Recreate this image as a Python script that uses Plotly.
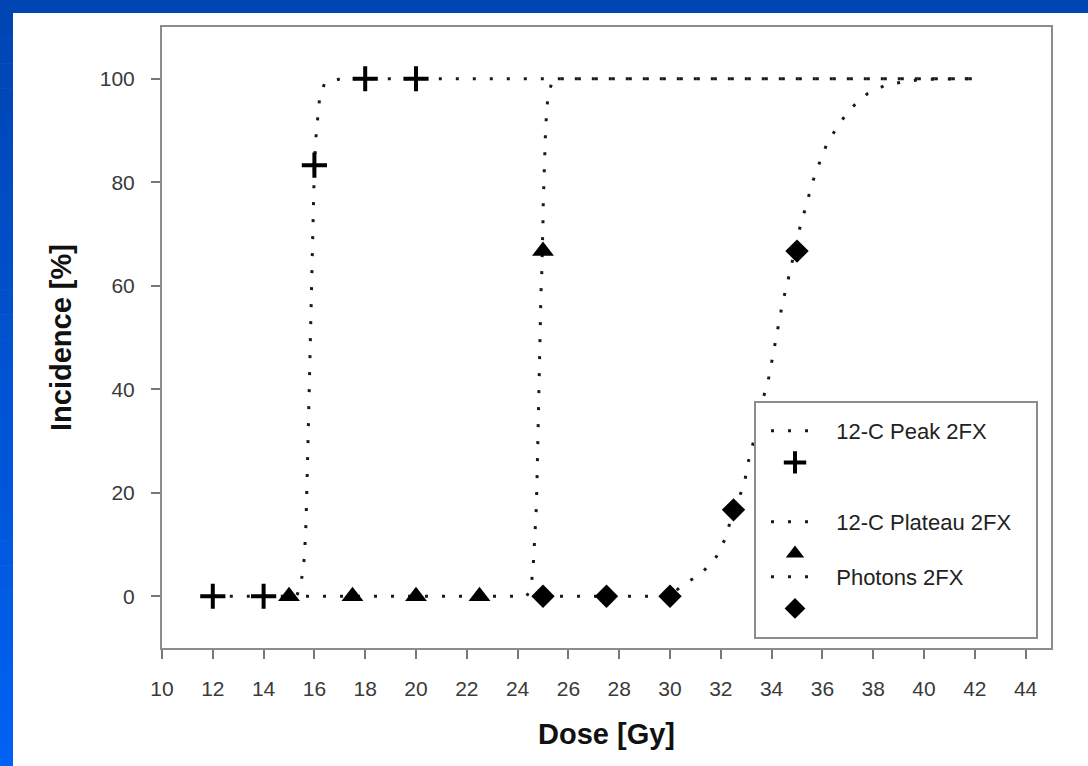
import plotly.graph_objects as go

# ---- data ----
peak_x = [12, 14, 16, 18, 20]
peak_y = [0, 0, 83.3, 100, 100]
plateau_x = [15, 17.5, 20, 22.5, 25]
plateau_y = [0, 0, 0, 0, 66.7]
photon_x = [25, 27.5, 30, 32.5, 35]
photon_y = [0, 0, 0, 16.7, 66.7]

peak_fit_x = [12, 15.3, 15.45, 15.54, 15.61, 15.67, 15.74, 15.83, 15.9, 15.95, 16.0,
              16.07, 16.13, 16.2, 16.4, 17.05, 42]
peak_fit_y = [0, 0, 2, 4.7, 7.8, 14.3, 28, 47, 65, 76, 83.3,
              89.3, 92.7, 96, 99.2, 100, 100]

plateau_fit_x = [15, 24.35, 24.5, 24.56, 24.62, 24.66, 24.71, 24.74, 24.77, 24.8, 24.82,
                 24.84, 24.87, 24.9, 24.92, 24.95, 24.98, 25.0, 25.01, 25.03, 25.05,
                 25.07, 25.1, 25.14, 25.2, 25.4, 42]
plateau_fit_y = [0, 0, 1.2, 3.1, 6.3, 9.7, 13.2, 17.4, 23.6, 30.6, 37.5,
                 44.4, 51.4, 55.2, 58.7, 62.2, 66.7, 72.6, 76.0, 79.5, 83.0,
                 86.5, 89.9, 93.4, 96.9, 100, 100]

photon_fit_x = [25, 30, 30.5, 31.22, 31.82, 32.18, 32.5, 32.93, 33.03, 33.4, 33.72,
                33.89, 34.02, 34.15, 34.28, 34.41, 34.57, 34.74, 35.04, 35.23, 35.42,
                35.63, 35.89, 36.16, 36.58, 37.08, 37.77, 38.49, 39.2, 39.93, 42]
photon_fit_y = [0, 0, 2.2, 4.3, 7.6, 11.2, 16.6, 21.6, 25.0, 32, 39.2,
                42.3, 45.7, 49.2, 52.7, 56.1, 59.6, 63.0, 69.9, 73.4, 76.8,
                80.3, 83.8, 87.2, 90.7, 94.1, 97.1, 98.8, 99.4, 99.9, 100]

series_names = ["12-C Peak 2FX", "12-C Plateau 2FX", "Photons 2FX"]
x_ticks = list(range(10, 46, 2))
y_ticks = [0, 20, 40, 60, 80, 100]

# ---- layout geometry (pixels) ----
W, H = 1088, 766
L, R, T, B = 162, 37, 27, 118
PW, PH = W - L - R, H - T - B


def px(p):
    return (p - L) / PW


def py(q):
    return (H - B - q) / PH


FONT = "Liberation Sans, Arial, sans-serif"
DOT = "3px,14px"
LINE_COLOR = "#1a1a1a"
PAD = "\u00a0\u00a0"  # gap between legend line sample and its label

fig = go.Figure()

curves = [(peak_fit_x, peak_fit_y), (plateau_fit_x, plateau_fit_y), (photon_fit_x, photon_fit_y)]
points = [(peak_x, peak_y), (plateau_x, plateau_y), (photon_x, photon_y)]
symbols = ["cross-thin", "triangle-up", "diamond"]
sizes = [18, 19, 18]
legends = ["legend", "legend2", "legend3"]

for i in range(3):
    cx, cy = curves[i]
    fig.add_trace(go.Scatter(
        x=cx, y=cy, mode="lines", name=PAD + series_names[i],
        line=dict(color=LINE_COLOR, width=3, dash=DOT),
        legend=legends[i], hoverinfo="skip"))

for i in range(3):
    mx, my = points[i]
    mk = dict(symbol=symbols[i], size=sizes[i], color="black")
    if symbols[i] == "cross-thin":
        mk["line"] = dict(color="black", width=4)
    else:
        mk["line"] = dict(color="black", width=0)
    fig.add_trace(go.Scatter(
        x=mx, y=my, mode="markers", name=" ",
        marker=mk, legend=legends[i]))

# reorder so each legend lists line then marker
fig.data = (fig.data[0], fig.data[3], fig.data[1], fig.data[4], fig.data[2], fig.data[5])

shapes = []
# legend box (white, covers curves)
shapes.append(dict(type="rect", xref="paper", yref="paper",
                   x0=px(755), x1=px(1037), y0=py(638), y1=py(402),
                   fillcolor="white", line=dict(color="#8c8c8c", width=2), layer="above"))
# blue frame: top strip
shapes.append(dict(type="rect", xref="paper", yref="paper",
                   x0=px(0), x1=px(W), y0=py(13), y1=py(0),
                   fillcolor="#0045b4", line=dict(width=0), layer="above"))
# blue frame: left strip with vertical gradient
n = 30
c0 = (0x00, 0x45, 0xb4)
c1 = (0x00, 0x61, 0xf2)
for k in range(n):
    t = k / (n - 1)
    col = "rgb(%d,%d,%d)" % tuple(round(c0[j] + (c1[j] - c0[j]) * t) for j in range(3))
    q0 = 13 + (H - 13) * k / n
    q1 = 13 + (H - 13) * (k + 1) / n + 0.6
    shapes.append(dict(type="rect", xref="paper", yref="paper",
                       x0=px(0), x1=px(13), y0=py(q1), y1=py(q0),
                       fillcolor=col, line=dict(width=0), layer="above"))

leg_common = dict(bgcolor="rgba(0,0,0,0)", borderwidth=0, itemwidth=48,
                  font=dict(family=FONT, size=22, color="#222222"),
                  xanchor="left", yanchor="top", tracegroupgap=0,
                  itemclick=False, itemdoubleclick=False)

fig.update_layout(
    width=W, height=H,
    margin=dict(l=L, r=R, t=T, b=B, autoexpand=False),
    paper_bgcolor="white", plot_bgcolor="white",
    showlegend=True,
    legend=dict(x=px(766), y=py(410), **leg_common),
    legend2=dict(x=px(766), y=py(501), **leg_common),
    legend3=dict(x=px(766), y=py(556), **leg_common),
    shapes=shapes,
    xaxis=dict(range=[10, 45], tickvals=x_ticks, ticks="outside", ticklen=9, tickwidth=1.5,
               tickcolor="#777", showline=True, linecolor="#8c8c8c", linewidth=2, mirror=True,
               showgrid=False, zeroline=False, ticklabelstandoff=12,
               tickfont=dict(family=FONT, size=21, color="#3a3a3a"),
               title=dict(text="<b>Dose [Gy]</b>", standoff=24,
                          font=dict(family=FONT, size=29, color="#111111"))),
    yaxis=dict(range=[-10, 110], tickvals=y_ticks, ticks="outside", ticklen=9, tickwidth=1.5,
               tickcolor="#777", showline=True, linecolor="#8c8c8c", linewidth=2, mirror=True,
               showgrid=False, zeroline=False, ticklabelstandoff=12,
               tickfont=dict(family=FONT, size=21, color="#3a3a3a"),
               title=dict(text="<b>Incidence [%]</b>", standoff=20,
                          font=dict(family=FONT, size=29, color="#111111"))),
)

fig.write_html("out.html")
